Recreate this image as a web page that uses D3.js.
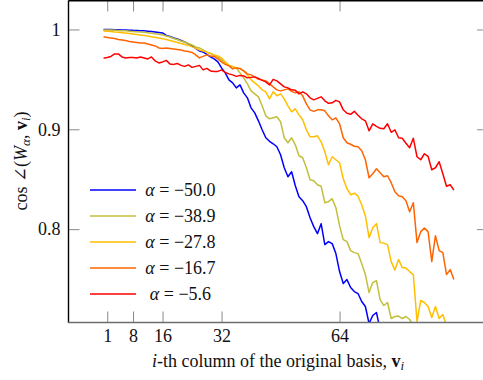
<!DOCTYPE html>
<html lang="en">
<head>
<meta charset="UTF-8">
<title>cos angle</title>
<script src="https://cdn.jsdelivr.net/npm/d3@7"></script>
<style>
  body { margin: 0; background: #fff; }
  text { font-family: "Liberation Serif", "DejaVu Serif", serif; fill: #111; }
</style>
</head>
<body>
<div id="main_container"></div>
<script>

    var svgWidth = 483;
    var svgHeight = 380;

    // column index of the original basis (0..95)
    var cols = d3.range(96);

    var xTicks = [1, 8, 16, 32, 64];
    var yTicks = [0.8, 0.9, 1];

    var alphas = ["\u221250.0", "\u221238.9", "\u221227.8", "\u221216.7", "\u22125.6"];
    var colors = ["#0000ff", "#c2bf3c", "#ffbf00", "#ff6400", "#ff0000"];

    var alpha50 = [1.000,1.000,0.9999,0.9998,0.9997,0.9995,0.9994,0.9993,0.9991,0.999,
        0.9988,0.9986,0.9983,0.998,0.9975,0.997,0.9965,0.994,0.993,0.9915,
        0.9905,0.989,0.9875,0.9855,0.9835,0.981,0.9785,0.9775,0.975,0.9725,
        0.9705,0.9675,0.9615,0.9565,0.9495,0.9465,0.9415,0.9445,0.9365,0.9315,
        0.9215,0.9165,0.9085,0.8995,0.8915,0.888,0.8855,0.8825,0.8745,0.8615,
        0.8525,0.8575,0.8435,0.8325,0.8285,0.8225,0.8115,0.8025,0.7955,0.8055,
        0.7845,0.7875,0.7855,0.7755,0.7575,0.7455,0.7495,0.7415,0.7375,0.7355,
        0.7275,0.7225,0.7055,0.7135,0.7165,0.6995];

    var alpha39 = [0.9995,0.9995,0.9994,0.9992,0.999,0.9988,0.9986,0.9983,0.998,0.9977,
        0.9975,0.9972,0.9968,0.9963,0.9957,0.9952,0.9945,0.9935,0.9925,0.991,
        0.99,0.9885,0.9875,0.986,0.9845,0.9825,0.9815,0.9795,0.9775,0.976,
        0.974,0.9725,0.9695,0.9665,0.964,0.9625,0.9615,0.9565,0.9515,0.9455,
        0.9385,0.9355,0.9325,0.9235,0.9135,0.9105,0.9115,0.9125,0.9075,0.8915,
        0.8865,0.8915,0.8845,0.8735,0.8715,0.8615,0.8495,0.8485,0.8445,0.843,
        0.8265,0.8275,0.8305,0.8215,0.8035,0.7895,0.7875,0.7785,0.7765,0.7755,
        0.7655,0.7545,0.7365,0.7465,0.7485,0.7295,0.7235,0.7265,0.7105,0.7125,
        0.713,0.7105,0.7125,0.7095,0.7035];

    var alpha28 = [0.9985,0.9982,0.9979,0.9975,0.9972,0.9968,0.9964,0.996,0.9955,0.995,
        0.9945,0.994,0.9935,0.9928,0.9923,0.9915,0.9908,0.99,0.989,0.988,
        0.987,0.986,0.985,0.984,0.9825,0.981,0.9795,0.9785,0.977,0.976,
        0.9745,0.9735,0.9715,0.9675,0.964,0.963,0.9615,0.9605,0.9585,0.9545,
        0.9495,0.9465,0.9435,0.9395,0.9375,0.9305,0.9375,0.9335,0.9355,0.9305,
        0.9235,0.9175,0.9205,0.9145,0.9095,0.8995,0.8925,0.8925,0.8935,0.8875,
        0.8775,0.8645,0.8725,0.8695,0.8665,0.8505,0.8405,0.8345,0.836,0.833,
        0.8245,0.8135,0.7915,0.8015,0.8055,0.7865,0.786,0.7845,0.7675,0.759,
        0.7695,0.7615,0.761,0.7575,0.7545,0.7075,0.7285,0.7265,0.7225,0.7115,
        0.7225,0.7105,0.7145,0.7035];

    var alpha17 = [0.9928,0.992,0.9915,0.991,0.99,0.9895,0.989,0.988,0.9875,0.987,
        0.9865,0.9865,0.9855,0.9845,0.9835,0.9815,0.981,0.9815,0.981,0.9805,
        0.98,0.9795,0.9785,0.978,0.977,0.9745,0.9715,0.973,0.9745,0.9735,
        0.973,0.9705,0.9675,0.965,0.9635,0.9605,0.9615,0.961,0.9585,0.9555,
        0.9545,0.9525,0.95,0.9495,0.9485,0.9455,0.9425,0.9395,0.9385,0.9395,
        0.9405,0.938,0.9365,0.9375,0.9335,0.9255,0.9195,0.918,0.9195,0.9195,
        0.9185,0.9135,0.9095,0.9115,0.9055,0.8915,0.8865,0.885,0.883,0.8825,
        0.8785,0.8695,0.8515,0.8555,0.8605,0.8565,0.8525,0.8535,0.8465,0.8375,
        0.8335,0.8325,0.8285,0.8175,0.8265,0.7865,0.7975,0.801,0.7975,0.7675,
        0.7935,0.7785,0.7765,0.7545,0.7595,0.7495];

    var alpha6 = [0.9712,0.972,0.973,0.9755,0.9755,0.9725,0.9715,0.972,0.972,0.9715,
        0.9725,0.9715,0.9705,0.9725,0.9685,0.9665,0.9675,0.969,0.9655,0.965,
        0.966,0.964,0.963,0.9645,0.962,0.963,0.964,0.9595,0.961,0.9585,
        0.958,0.958,0.9595,0.957,0.9555,0.9545,0.953,0.954,0.9535,0.9515,
        0.952,0.9525,0.951,0.949,0.9475,0.9445,0.95,0.9485,0.9455,0.9425,
        0.9415,0.9395,0.939,0.9355,0.9375,0.9355,0.9315,0.9295,0.931,0.9325,
        0.9285,0.926,0.9265,0.929,0.9275,0.9195,0.916,0.915,0.918,0.914,
        0.9105,0.9085,0.8985,0.9055,0.903,0.901,0.9005,0.9055,0.897,0.8995,
        0.8915,0.891,0.886,0.8815,0.891,0.8725,0.8695,0.8755,0.873,0.8595,
        0.8615,0.8675,0.8555,0.843,0.8445,0.839];

    var seriesList = [alpha50, alpha39, alpha28, alpha17, alpha6];

    var plotLeft = 68.5, plotRight = 488, plotTop = 0.5, plotBottom = 322.5;
    var fontSize = 18;

    var svg = d3.select("#main_container").append("svg")
            .attr("width", svgWidth)
            .attr("height", svgHeight);

    var x = d3.scaleLinear().domain([-9.5, 104.25]).range([plotLeft, plotRight]);
    var y = d3.scaleLinear().domain([0.7065, 1.029]).range([plotBottom, plotTop]);

    svg.append("clipPath").attr("id", "plotclip")
        .append("rect")
        .attr("x", plotLeft).attr("y", plotTop)
        .attr("width", plotRight - plotLeft).attr("height", plotBottom - plotTop);

    // curves
    var line = d3.line()
        .x(function(d, i){ return x(cols[i]); })
        .y(function(d){ return y(d); });

    var gLines = svg.append("g").attr("clip-path", "url(#plotclip)");
    seriesList.forEach(function(s, k){
        gLines.append("path")
            .attr("d", line(s))
            .attr("fill", "none")
            .attr("stroke", colors[k])
            .attr("stroke-width", 1.5)
            .attr("stroke-linejoin", "round");
    });

    // axes (ticks pointing inward)
    var xAxis = d3.axisBottom(x).tickValues(xTicks).tickSizeInner(-11).tickSizeOuter(0).tickPadding(6.5);
    var xAxisTop = d3.axisTop(x).tickValues(xTicks).tickSizeInner(-11).tickSizeOuter(0).tickFormat("");
    var yAxis = d3.axisLeft(y).tickValues(yTicks).tickSizeInner(-11).tickSizeOuter(0).tickPadding(8)
        .tickFormat(function(d){ return d === 1 ? "1" : d3.format(".1f")(d); });
    var yAxisRight = d3.axisRight(y).tickValues(yTicks).tickSizeInner(-11).tickSizeOuter(0).tickFormat("");

    function styleAxis(g) {
        g.select(".domain").remove();
        g.selectAll(".tick line").attr("stroke", "#8a8a8a").attr("stroke-width", 1);
        g.selectAll(".tick text").attr("font-size", fontSize)
            .attr("font-family", "Liberation Serif").attr("fill", "#111");
    }

    svg.append("g").attr("transform", "translate(0," + plotBottom + ")").call(xAxis).call(styleAxis);
    svg.append("g").attr("transform", "translate(0," + plotTop + ")").call(xAxisTop).call(styleAxis);
    svg.append("g").attr("transform", "translate(" + plotLeft + ",0)").call(yAxis).call(styleAxis);
    svg.append("g").attr("transform", "translate(" + plotRight + ",0)").call(yAxisRight).call(styleAxis);

    // spines
    svg.append("line").attr("x1", plotLeft).attr("x2", plotRight).attr("y1", plotTop + 0.3).attr("y2", plotTop + 0.3)
        .attr("stroke", "#000").attr("stroke-width", 1.6);
    svg.append("line").attr("x1", plotLeft).attr("x2", plotLeft).attr("y1", plotTop).attr("y2", plotBottom)
        .attr("stroke", "#000").attr("stroke-width", 1.4);
    svg.append("line").attr("x1", plotLeft - 0.7).attr("x2", plotRight).attr("y1", plotBottom).attr("y2", plotBottom)
        .attr("stroke", "#6e6e6e").attr("stroke-width", 1.6);
    svg.append("line").attr("x1", plotRight).attr("x2", plotRight).attr("y1", plotTop).attr("y2", plotBottom)
        .attr("stroke", "#000").attr("stroke-width", 1.4);

    // axis labels
    var xl = svg.append("text")
        .attr("x", 278).attr("y", 367)
        .attr("text-anchor", "middle")
        .attr("font-size", fontSize);
    xl.append("tspan").attr("font-style", "italic").text("i");
    xl.append("tspan").text("-th column of the original basis, ");
    xl.append("tspan").attr("font-weight", "bold").text("v");
    xl.append("tspan").attr("font-style", "italic").attr("font-size", 13).attr("dy", 3).text("i");

    var yl = svg.append("text")
        .attr("transform", "translate(27,161) rotate(-90)")
        .attr("text-anchor", "middle")
        .attr("font-size", fontSize);
    yl.append("tspan").text("cos \u2220(");
    yl.append("tspan").attr("font-style", "italic").text("W");
    yl.append("tspan").attr("font-style", "italic").attr("font-size", 13).attr("dy", 3).text("\u03b1");
    yl.append("tspan").attr("dy", -3).text(", ");
    yl.append("tspan").attr("font-weight", "bold").text("v");
    yl.append("tspan").attr("font-style", "italic").attr("font-size", 13).attr("dy", 3).text("i");
    yl.append("tspan").attr("dy", -3).text(")");

    // legend
    var legend = svg.append("g");
    alphas.forEach(function(a, k){
        var ly = 190 + k * 26;
        legend.append("line")
            .attr("x1", 90).attr("x2", 136).attr("y1", ly).attr("y2", ly)
            .attr("stroke", colors[k]).attr("stroke-width", 1.5);
        var t = legend.append("text")
            .attr("x", 180.5).attr("y", ly + 6)
            .attr("text-anchor", "middle")
            .attr("font-size", fontSize);
        t.append("tspan").attr("font-style", "italic").text("\u03b1");
        t.append("tspan").text(" = " + a);
    });
</script>
</body>
</html>
